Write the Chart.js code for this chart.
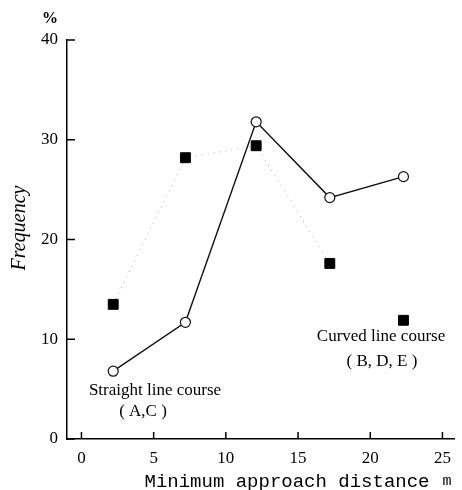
<!DOCTYPE html>
<html>
<head>
<meta charset="utf-8">
<script src="https://cdn.jsdelivr.net/npm/chart.js@4"></script>
<style>
  body { margin: 0; background: #fff; }
  canvas { display: block; }
</style>
</head>
<body>
<canvas id="freqChart" width="462" height="490"></canvas>
<script>
// distance bins (m) and frequencies (%)
const distances = [2.2, 7.2, 12.1, 17.2, 22.3];
const straightFreq = [6.8, 11.7, 31.8, 24.2, 26.3];   // Straight line course (A,C)
const curvedFreq = [13.5, 28.2, 29.4, 17.6, 11.9];    // Curved line course (B, D, E)
const xTicks = [0, 5, 10, 15, 20, 25];
const yTicks = [0, 10, 20, 30, 40];

const SERIF = '"Liberation Serif", "Times New Roman", serif';

function toPoints(xs, ys) {
    return xs.map((x, i) => ({ x: x, y: ys[i] }));
}

// inward tick marks + free text labels
const decorations = {
    id: 'decorations',
    afterDraw(chart) {
        const ctx = chart.ctx;
        const xs = chart.scales.x;
        const ys = chart.scales.y;
        ctx.save();
        ctx.strokeStyle = '#000';
        ctx.lineWidth = 1.5;
        yTicks.forEach(v => {
            const py = ys.getPixelForValue(v);
            ctx.beginPath();
            ctx.moveTo(ys.right, py);
            ctx.lineTo(ys.right + 8, py);
            ctx.stroke();
        });
        xTicks.forEach(v => {
            const px = xs.getPixelForValue(v);
            ctx.beginPath();
            ctx.moveTo(px, xs.top);
            ctx.lineTo(px, xs.top - 7);
            ctx.stroke();
        });

        ctx.fillStyle = '#000';
        ctx.textAlign = 'center';
        ctx.textBaseline = 'middle';
        ctx.font = '17px ' + SERIF;
        ctx.fillText('Straight line course', 155, 391);
        ctx.fillText('( A,C )', 143, 412);
        ctx.fillText('Curved line course', 381, 337);
        ctx.fillText('( B, D, E )', 382, 362);

        ctx.font = 'bold 16px ' + SERIF;
        ctx.fillText('%', 50, 19);

        ctx.font = '19px "Liberation Mono", monospace';
        ctx.fillText('Minimum approach distance', 287, 482);
        ctx.font = '15px "Liberation Mono", monospace';
        ctx.fillText('m', 447, 481);

        ctx.translate(20, 228);
        ctx.rotate(-Math.PI / 2);
        ctx.font = 'italic 20px ' + SERIF;
        ctx.fillText('Frequency', 0, 0);
        ctx.restore();
    }
};

new Chart(document.getElementById('freqChart'), {
    type: 'line',
    data: {
        datasets: [
            {
                label: 'Straight line course (A,C)',
                data: toPoints(distances, straightFreq),
                borderColor: '#111',
                borderWidth: 1.4,
                pointStyle: 'circle',
                pointRadius: 5,
                pointBackgroundColor: '#fff',
                pointBorderColor: '#111',
                pointBorderWidth: 1.2,
                order: 1
            },
            {
                label: 'Curved line course (B, D, E)',
                data: toPoints(distances, curvedFreq),
                borderColor: '#a8a8a8',
                borderWidth: 1,
                borderDash: [1, 5],
                segment: {
                    borderColor: c => c.p1DataIndex === 4 ? 'rgba(0,0,0,0)' : '#a8a8a8'
                },
                pointStyle: 'rect',
                pointRadius: 7,
                pointBackgroundColor: '#000',
                pointBorderColor: '#000',
                pointBorderWidth: 1,
                order: 2
            }
        ]
    },
    options: {
        responsive: false,
        devicePixelRatio: 1,
        animation: false,
        layout: { padding: { top: 40, right: 3, left: 0, bottom: 0 } },
        plugins: {
            legend: { display: false },
            tooltip: { enabled: false }
        },
        scales: {
            x: {
                type: 'linear',
                min: -1,
                max: 25.8,
                afterFit: s => { s.height = 51; },
                afterBuildTicks: s => { s.ticks = xTicks.map(v => ({ value: v })); },
                grid: { display: false, drawTicks: false },
                border: { display: true, color: '#000', width: 1.5 },
                ticks: {
                    padding: 9,
                    color: '#000',
                    font: { family: SERIF, size: 17 }
                }
            },
            y: {
                type: 'linear',
                min: 0,
                max: 40,
                afterFit: s => { s.width = 67; },
                afterBuildTicks: s => { s.ticks = yTicks.map(v => ({ value: v })); },
                grid: { display: false, drawTicks: false },
                border: { display: true, color: '#000', width: 1.5 },
                ticks: {
                    padding: 9,
                    color: '#000',
                    font: { family: SERIF, size: 17 }
                }
            }
        }
    },
    plugins: [decorations]
});
</script>
</body>
</html>
